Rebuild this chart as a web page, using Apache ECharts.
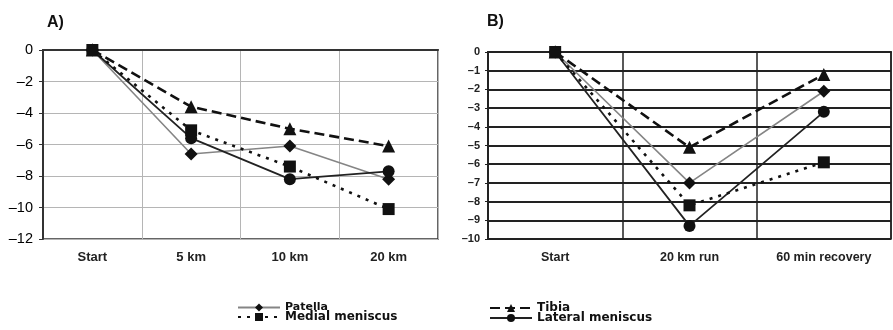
<!DOCTYPE html>
<html>
<head>
<meta charset="utf-8">
<script src="https://cdn.jsdelivr.net/npm/echarts@6/dist/echarts.min.js"></script>
<style>html,body{margin:0;padding:0;background:#fff}#c{width:893px;height:330px}</style>
</head>
<body>
<div id="c"></div>
<script>
// Panel A
var catsA = ['Start', '5 km', '10 km', '20 km'];
var patellaA = [0, -6.6, -6.1, -8.2];
var tibiaA = [0, -3.6, -5.0, -6.1];
var lateralA = [0, -5.6, -8.2, -7.7];
var medialA = [0, -5.1, -7.4, -10.1];
// Panel B
var catsB = ['Start', '20 km run', '60 min recovery'];
var patellaB = [0, -7.0, -2.1];
var tibiaB = [0, -5.1, -1.2];
var lateralB = [0, -9.3, -3.2];
var medialB = [0, -8.2, -5.9];

var FONT = 'Liberation Sans';
var LFONT = 'DejaVu Sans';
var minusFmt = function (v) { return String(v).replace('-', '\u2013'); };

var styles = {
  'Patella': {symbol: 'diamond', symbolSize: 13, line: {color: '#858585', width: 1.6, type: 'solid'}},
  'Tibia': {symbol: 'triangle', symbolSize: 13, line: {color: '#111', width: 2.6, type: [10, 5]}},
  'Lateral meniscus': {symbol: 'circle', symbolSize: 12, line: {color: '#222', width: 1.8, type: 'solid'}},
  'Medial meniscus': {symbol: 'rect', symbolSize: 12, line: {color: '#111', width: 2.6, type: [3, 6]}}
};

function mk(name, data, idx) {
  var s = styles[name];
  return {
    name: name, type: 'line', data: data,
    xAxisIndex: idx, yAxisIndex: idx,
    symbol: s.symbol, symbolSize: s.symbolSize,
    itemStyle: {color: '#111', borderWidth: 0},
    lineStyle: s.line,
    animation: false
  };
}

var legendText = {
  fontFamily: LFONT, fontWeight: 'bold', color: '#111', lineHeight: 10,
  rich: {
    s: {fontFamily: LFONT, fontSize: 11, fontWeight: 'bold', color: '#111', lineHeight: 10},
    b: {fontFamily: LFONT, fontSize: 12, fontWeight: 'bold', color: '#111', lineHeight: 10}
  }
};
var legendFmt = function (n) { return (n === 'Patella' ? '{s|' : '{b|') + n + '}'; };

var chart = echarts.init(document.getElementById('c'));
chart.setOption({
  animation: false,
  textStyle: {fontFamily: FONT},
  title: [
    {text: 'A)', left: 42, top: 10, textStyle: {fontFamily: FONT, fontSize: 16, fontWeight: 'bold', color: '#111'}},
    {text: 'B)', left: 482, top: 9, textStyle: {fontFamily: FONT, fontSize: 16, fontWeight: 'bold', color: '#111'}}
  ],
  legend: [
    {
      data: ['Patella', 'Medial meniscus'], orient: 'vertical', left: 237, top: 302, height: 80,
      padding: 0, itemGap: -2, itemWidth: 42, itemHeight: 10,
      formatter: legendFmt, textStyle: legendText
    },
    {
      data: ['Tibia', 'Lateral meniscus'], orient: 'vertical', left: 489, top: 302, height: 80,
      padding: 0, itemGap: -2, itemWidth: 42, itemHeight: 10,
      formatter: legendFmt, textStyle: legendText
    }
  ],
  grid: [
    {left: 43, top: 50, width: 395, height: 189, show: true, borderColor: '#333', borderWidth: 1.5},
    {left: 488, top: 52, width: 403, height: 187, show: true, borderColor: '#222', borderWidth: 1.5}
  ],
  xAxis: [
    {
      type: 'category', gridIndex: 0, data: catsA, boundaryGap: true,
      axisLine: {lineStyle: {color: '#333', width: 2}}, axisTick: {show: false},
      axisLabel: {margin: 12, fontFamily: FONT, fontSize: 13, fontWeight: 'bold', color: '#222'},
      splitLine: {show: true, lineStyle: {color: '#b5b5b5', width: 1}}
    },
    {
      type: 'category', gridIndex: 1, data: catsB, boundaryGap: true,
      axisLine: {lineStyle: {color: '#222', width: 2}}, axisTick: {show: false},
      axisLabel: {margin: 12, fontFamily: FONT, fontSize: 12.5, fontWeight: 'bold', color: '#222'},
      splitLine: {show: true, lineStyle: {color: '#222', width: 1.5}}
    }
  ],
  yAxis: [
    {
      type: 'value', gridIndex: 0, min: -12, max: 0, interval: 2,
      axisLine: {show: true, lineStyle: {color: '#333', width: 2}},
      axisTick: {show: true, length: 4, lineStyle: {color: '#333'}},
      axisLabel: {margin: 10, fontFamily: FONT, fontSize: 14.5, color: '#000', formatter: minusFmt},
      splitLine: {show: true, lineStyle: {color: '#b5b5b5', width: 1.2}}
    },
    {
      type: 'value', gridIndex: 1, min: -10, max: 0, interval: 1,
      axisLine: {show: true, lineStyle: {color: '#222', width: 2}},
      axisTick: {show: true, length: 3, lineStyle: {color: '#222'}},
      axisLabel: {margin: 8, fontFamily: FONT, fontSize: 11, fontWeight: 'bold', color: '#222', formatter: minusFmt},
      splitLine: {show: true, lineStyle: {color: '#222', width: 1.8}}
    }
  ],
  series: [
    mk('Patella', patellaA, 0),
    mk('Tibia', tibiaA, 0),
    mk('Lateral meniscus', lateralA, 0),
    mk('Medial meniscus', medialA, 0),
    mk('Patella', patellaB, 1),
    mk('Tibia', tibiaB, 1),
    mk('Lateral meniscus', lateralB, 1),
    mk('Medial meniscus', medialB, 1)
  ]
});
</script>
</body>
</html>
